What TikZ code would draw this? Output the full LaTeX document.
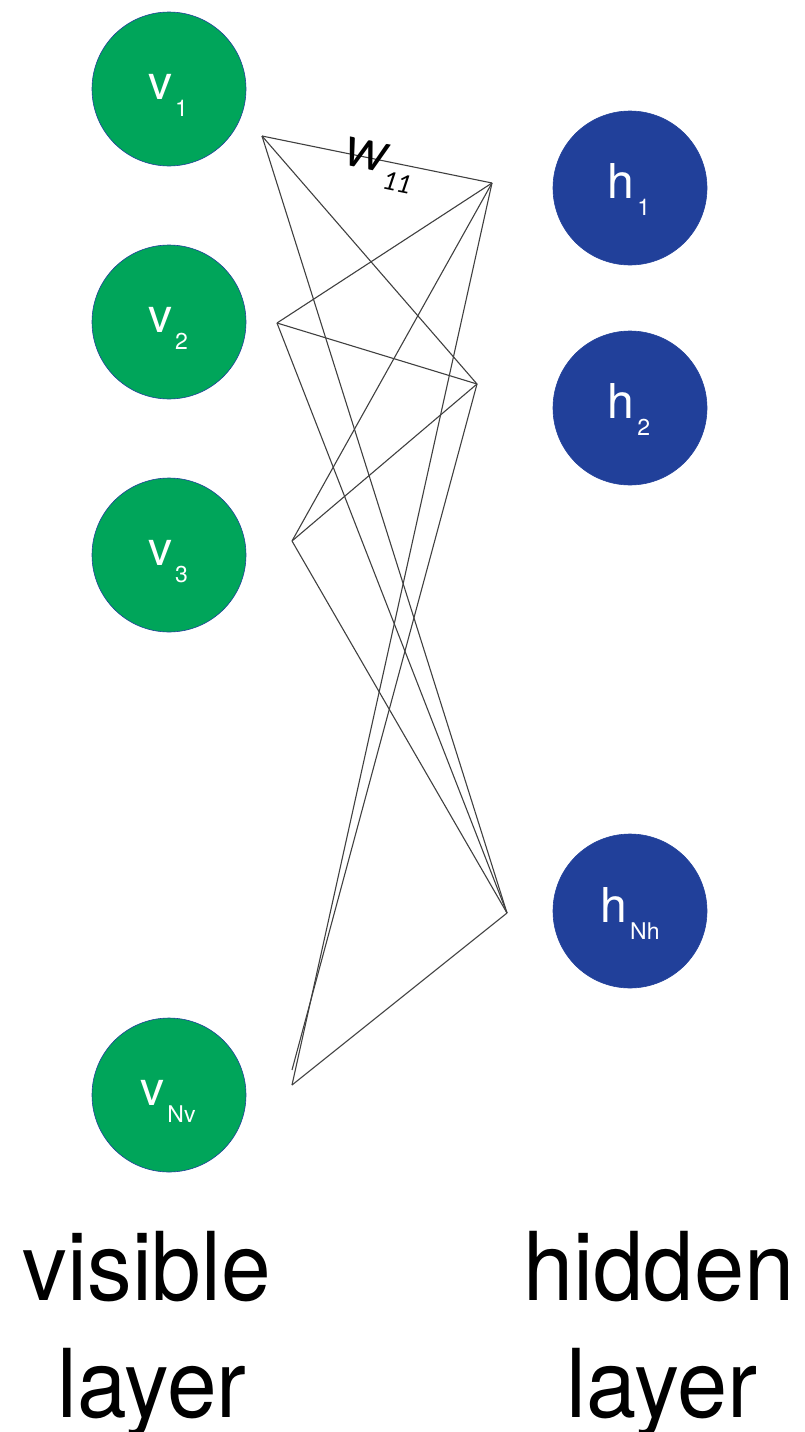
\documentclass[tikz,border=0pt]{standalone}
\usepackage{graphicx}
\usepackage{fontspec}
\setmainfont{TeX Gyre Heros}
\newfontfamily\calib{Carlito}
\definecolor{vgreen}{RGB}{0,165,90}
\definecolor{hblue}{RGB}{33,64,154}
\begin{document}
\begin{tikzpicture}[x=1pt,y=-1pt,
  unit/.style={circle, minimum size=154pt, inner sep=0pt, draw=hblue, line width=0.6pt},
  vis/.style={unit, fill=vgreen},
  hid/.style={unit, fill=hblue},
  lab/.style={text=white, font=\fontsize{48}{48}\selectfont, anchor=base, inner sep=0pt},
  conn/.style={draw=black!75, line width=1.1pt},
  layer/.style={font=\fontsize{95}{117}\selectfont, anchor=base, inner sep=0pt}]
\useasboundingbox (0,0) rectangle (805,1432);
\newcommand{\sbs}[1]{\hspace{3pt}\raisebox{-17pt}{\fontsize{23}{23}\selectfont #1}}
% visible units
\node[vis] (v1) at (169,89) {};
\node[vis] (v2) at (169,322) {};
\node[vis] (v3) at (169,555) {};
\node[vis] (vN) at (169,1095) {};
\node[lab] (v1l) at (168,99) {v\sbs{1}};
\node[lab] (v2l) at (168,332) {v\sbs{2}};
\node[lab] (v3l) at (168,565) {v\sbs{3}};
\node[lab] (vNl) at (168,1105) {v\sbs{Nv}};
% hidden units
\node[hid] (h1) at (630,188) {};
\node[hid] (h2) at (630,408) {};
\node[hid] (hN) at (630,911) {};
\node[lab] (h1l) at (629,198) {h\sbs{1}};
\node[lab] (h2l) at (629,418) {h\sbs{2}};
\node[lab] (hNl) at (630,922) {h\sbs{Nh}};
% connection points
\coordinate (a1) at (262,136);
\coordinate (a2) at (277,323);
\coordinate (a3) at (292,541);
\coordinate (a4) at (292,1085);
\coordinate (a5) at (292,1070);
\coordinate (b1) at (492,183);
\coordinate (b2) at (477,384);
\coordinate (b3) at (507,913);
\draw[conn] (a1) -- (b1);
\draw[conn] (a1) -- (b2);
\draw[conn] (a1) -- (b3);
\draw[conn] (a2) -- (b1);
\draw[conn] (a2) -- (b2);
\draw[conn] (a2) -- (b3);
\draw[conn] (a3) -- (b1);
\draw[conn] (a3) -- (b2);
\draw[conn] (a3) -- (b3);
\draw[conn] (a4) -- (b1);
\draw[conn] (a4) -- (b3);
\draw[conn] (a5) -- (b2);
% weight label
\node[rotate=-11.5, anchor=base west, inner sep=0pt] (w11) at (342,164)
  {\calib\itshape\fontsize{60}{60}\selectfont w\raisebox{-16pt}{\fontsize{28}{28}\selectfont 11}};
% layer captions
\node[layer] (vis1) at (147,1300) {\scalebox{0.94}[1]{visible}};
\node[layer] (vis2) at (152,1417) {\scalebox{0.94}[1]{layer}};
\node[layer] (hid1) at (659,1300) {\scalebox{0.95}[1]{hidden}};
\node[layer] (hid2) at (662,1417) {\scalebox{0.95}[1]{layer}};
\end{tikzpicture}
\end{document}
